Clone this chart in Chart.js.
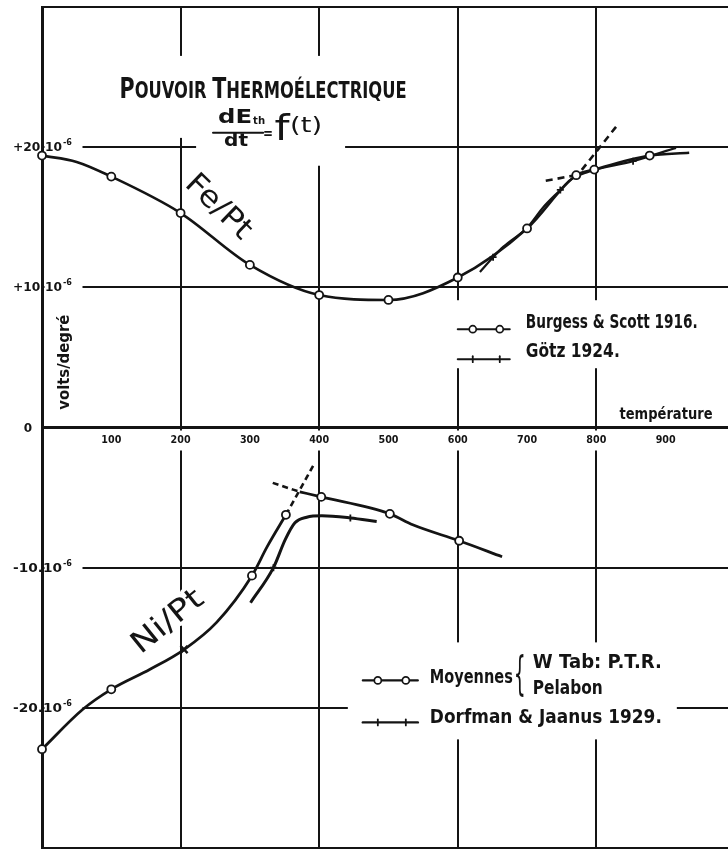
<!DOCTYPE html>
<html><head><meta charset="utf-8">
<script src="https://cdn.jsdelivr.net/npm/chart.js@4.4.1/dist/chart.umd.min.js"></script>
<style>html,body{margin:0;padding:0;background:#fff;}#wrap{width:728px;height:849px;}</style>
</head><body><div id="wrap"><canvas id="c" width="728" height="849"></canvas></div>
<script>
// ---------- data: temperature (°C) vs thermoelectric power (10^-6 V/°C) ----------
const xTickValues = [100, 200, 300, 400, 500, 600, 700, 800, 900];
const xGridValues = [200, 400, 600, 800];
const yTickValues = [20, 10, 0, -10, -20];
const yTickLabels = ['+20.10', '+10.10', '0', '-10.10', '-20.10'];
const yTickExponent = '-6';

// Fe/Pt — Burgess & Scott 1916 (measured circles + extra trace points of the drawn curve)
const feBurgessT = [0, 100, 200, 300, 400, 500, 600, 700, 771, 797, 877];
const feBurgessV = [19.4, 17.9, 15.3, 11.6, 9.45, 9.1, 10.7, 14.2, 18.0, 18.4, 19.4];
const feBurgessTraceT = [50, 934];
const feBurgessTraceV = [18.95, 19.6];
// Fe/Pt — Götz 1924
const feGotzT = [632, 651, 666, 700, 724, 748, 762, 786, 853, 915];
const feGotzV = [11.1, 12.15, 12.9, 14.25, 15.75, 16.95, 17.65, 18.2, 19.0, 19.95];
const feGotzMarkT = [651, 748, 853];
const feGotzMarkV = [12.15, 16.95, 19.0];
// Fe/Pt — dashed tangents
const feTangentFlatT = [727, 767];
const feTangentFlatV = [17.6, 17.97];
const feTangentSteepT = [779, 830];
const feTangentSteepV = [18.38, 21.55];

// Ni/Pt — Moyennes (W Tab: P.T.R., Pelabon)
const niMoyLowT = [0, 59, 100, 156, 205, 252, 303, 325, 352];
const niMoyLowV = [-22.95, -20.1, -18.68, -17.25, -15.84, -13.9, -10.57, -8.5, -6.23];
const niMoyHighT = [372, 403, 502, 535, 602, 664];
const niMoyHighV = [-4.59, -4.95, -6.16, -6.94, -8.08, -9.22];
const niMoyPointT = [0, 100, 303, 352, 403, 502, 602];
const niMoyPointV = [-22.95, -18.68, -10.57, -6.23, -4.95, -6.16, -8.08];
const niCrossT = [205];
const niCrossV = [-15.84];
const niTangentSteepT = [352, 392];
const niTangentSteepV = [-6.23, -2.67];
const niTangentFlatT = [333, 372];
const niTangentFlatV = [-3.95, -4.59];
// Ni/Pt — Dorfman & Jaanus 1929
const niDorfT = [301, 334, 351, 365, 382, 404, 445, 483];
const niDorfV = [-12.5, -10.0, -8.0, -6.8, -6.4, -6.3, -6.45, -6.7];
const niDorfMarkT = [334, 445];
const niDorfMarkV = [-10.0, -6.45];

// ---------- helpers ----------
const INK = '#141414';
const FONT = '"DejaVu Sans", sans-serif';
const pts = (T, V) => T.map((t, i) => ({x: t, y: V[i]}));
const merged = (T1, V1, T2, V2) => pts(T1, V1).concat(pts(T2, V2)).sort((a, b) => a.x - b.x);

function curve(data, w, dash) {
  return {data, showLine: true, borderColor: INK, borderWidth: w || 2.6, borderDash: dash || [],
    pointRadius: 0, pointHoverRadius: 0, cubicInterpolationMode: 'monotone', order: 2, fill: false};
}
function marks(data, style, r, bw, bg) {
  return {data, showLine: false, pointStyle: style, pointRadius: r, pointHoverRadius: r,
    pointBackgroundColor: bg || '#fff', pointBorderColor: INK, pointBorderWidth: bw, order: 0, clip: false};
}

function txt(ctx, s, x, y, o) {
  ctx.save();
  ctx.font = `${o.style || 'normal'} ${o.weight || 'bold'} ${o.size}px ${FONT}`;
  const m = ctx.measureText(s).width;
  ctx.translate(x, y);
  if (o.rot) ctx.rotate(o.rot);
  ctx.scale(o.w ? o.w / m : 1, 1);
  ctx.textAlign = o.align || 'center';
  ctx.textBaseline = o.baseline || 'middle';
  if (o.knock) { ctx.lineJoin = 'round'; ctx.strokeStyle = '#fff'; ctx.lineWidth = o.knock; ctx.strokeText(s, 0, 0); }
  ctx.fillStyle = INK; ctx.fillText(s, 0, 0);
  ctx.restore();
}
function smallCaps(ctx, s, cx, base, w, big, small) {
  const parts = [];
  s.split(' ').forEach((wd, i, arr) => {
    parts.push([wd[0], big]);
    parts.push([wd.slice(1) + (i < arr.length - 1 ? ' ' : ''), small]);
  });
  ctx.save();
  let total = 0;
  parts.forEach(p => { ctx.font = `bold ${p[1]}px ${FONT}`; p.push(ctx.measureText(p[0]).width); total += p[2]; });
  ctx.translate(cx - w / 2, base); ctx.scale(w / total, 1);
  ctx.textAlign = 'left'; ctx.textBaseline = 'alphabetic'; ctx.fillStyle = INK;
  let xx = 0;
  parts.forEach(p => { ctx.font = `bold ${p[1]}px ${FONT}`; ctx.fillText(p[0], xx, 0); xx += p[2]; });
  ctx.restore();
}
function seg(ctx, x1, y1, x2, y2, w) {
  ctx.save(); ctx.strokeStyle = INK; ctx.lineWidth = w || 2.4; ctx.lineCap = 'round';
  ctx.beginPath(); ctx.moveTo(x1, y1); ctx.lineTo(x2, y2); ctx.stroke(); ctx.restore();
}
function ring(ctx, x, y, r) {
  ctx.save(); ctx.fillStyle = '#fff'; ctx.strokeStyle = INK; ctx.lineWidth = 1.7;
  ctx.beginPath(); ctx.arc(x, y, r, 0, Math.PI * 2); ctx.fill(); ctx.stroke(); ctx.restore();
}
function tick(ctx, x, y) { seg(ctx, x, y - 3, x, y + 3, 1.8); }

const annotations = {
  id: 'annotations',
  beforeDatasetsDraw(chart) {
    const {ctx, scales: {x, y}} = chart;
    const P = (t, v) => [x.getPixelForValue(t), y.getPixelForValue(v)];
    ctx.save();

    const [tx, ty] = P(319, 24.3);
    const [fx, fy] = P(283, 21.03);
    const [lx1, ly1] = P(600, 6.94);
    const [lx2, ly2] = P(463, -17.97);
    ctx.fillStyle = '#fff';
    ctx.fillRect(tx - 163, ty - 31, 320, 50);
    ctx.fillRect(tx - 90, ty + 17, 14, 34);
    ctx.fillRect(fx - 42, fy - 30, 149, 63);
    ctx.fillRect(lx1 - 10, ly1 - 30, 257, 68);
    ctx.fillRect(lx2 - 15, ly2 - 37, 329, 97);

    // y tick labels
    yTickValues.forEach((v, i) => {
      const py = y.getPixelForValue(v);
      if (v === 0) { txt(ctx, yTickLabels[i], 28, py + 1, {size: 12}); return; }
      ctx.fillStyle = '#fff'; ctx.fillRect(44.5, py - 7, 38, 14);
      txt(ctx, yTickLabels[i], 13, py + 1, {size: 11.5, w: 49, align: 'left'});
      txt(ctx, yTickExponent, 63, py - 4, {size: 8, w: 9, align: 'left'});
    });

    // x tick labels, just under the zero line
    const y0 = y.getPixelForValue(0);
    xTickValues.forEach(v => {
      const px = x.getPixelForValue(v);
      ctx.fillStyle = '#fff'; ctx.fillRect(px - 12, y0 + 3, 24, 20);
      txt(ctx, String(v), px, y0 + 13, {size: 11, w: 20});
    });

    smallCaps(ctx, 'POUVOIR THERMOÉLECTRIQUE', tx, ty + 11, 287, 29, 23);

    // formula dE_th/dt = f(t)
    txt(ctx, 'dE', fx - 3, fy - 15, {size: 19, w: 34});
    txt(ctx, 'th', fx + 21, fy - 11, {size: 10, w: 12});
    seg(ctx, fx - 25, fy, fx + 25, fy, 2.2);
    txt(ctx, 'dt', fx - 2, fy + 9, {size: 18, w: 24});
    txt(ctx, '=', fx + 30, fy + 1, {size: 16, w: 10});
    txt(ctx, 'f', fx + 44, fy - 2, {size: 36, weight: 'normal', w: 15});
    txt(ctx, '(t)', fx + 68, fy - 6, {size: 21, weight: 'normal', w: 32});

    // curve names
    const [fex, fey] = P(254, 15.7);
    txt(ctx, 'Fe/Pt', fex, fey, {size: 30, weight: 'normal', w: 80, rot: 44 * Math.PI / 180, knock: 7});
    const [nix, niy] = P(182, -13.9);
    txt(ctx, 'Ni/Pt', nix, niy, {size: 30, weight: 'normal', w: 84, rot: -39 * Math.PI / 180, knock: 7});

    // axis titles
    const [vx, vy] = P(33, 4.66);
    txt(ctx, 'volts/degré', vx, vy, {size: 16, w: 95, rot: -Math.PI / 2});
    const [tpx, tpy] = P(900.5, 0.89);
    txt(ctx, 'température', tpx, tpy, {size: 15, w: 93});

    // legend Fe/Pt
    seg(ctx, lx1, ly1 - 1, lx1 + 52, ly1 - 1, 2);
    ring(ctx, lx1 + 15, ly1 - 1, 3.5); ring(ctx, lx1 + 42, ly1 - 1, 3.5);
    txt(ctx, 'Burgess & Scott 1916.', lx1 + 68, ly1 - 7, {size: 20, w: 172, align: 'left'});
    seg(ctx, lx1, ly1 + 29, lx1 + 52, ly1 + 29, 2);
    tick(ctx, lx1 + 15, ly1 + 29); tick(ctx, lx1 + 42, ly1 + 29);
    txt(ctx, 'Götz 1924.', lx1 + 68, ly1 + 22, {size: 20, w: 94, align: 'left'});

    // legend Ni/Pt
    seg(ctx, lx2, ly2 + 1, lx2 + 55, ly2 + 1, 2.2);
    ring(ctx, lx2 + 15, ly2 + 1, 3.5); ring(ctx, lx2 + 43, ly2 + 1, 3.5);
    txt(ctx, 'Moyennes', lx2 + 67, ly2 - 2, {size: 20, w: 83, align: 'left'});
    txt(ctx, '{', lx2 + 157, ly2 - 2, {size: 46, weight: 'normal', w: 12});
    txt(ctx, 'W Tab: P.T.R.', lx2 + 170, ly2 - 17, {size: 20, w: 129, align: 'left'});
    txt(ctx, 'Pelabon', lx2 + 170, ly2 + 9, {size: 20, w: 70, align: 'left'});
    seg(ctx, lx2, ly2 + 43, lx2 + 55, ly2 + 43, 2.4);
    tick(ctx, lx2 + 15, ly2 + 43); tick(ctx, lx2 + 43, ly2 + 43);
    txt(ctx, 'Dorfman & Jaanus 1929.', lx2 + 67, ly2 + 38, {size: 20, w: 232, align: 'left'});

    ctx.restore();
  }
};

new Chart(document.getElementById('c'), {
  type: 'scatter',
  data: {
    datasets: [
      marks(pts(feBurgessT, feBurgessV), 'circle', 4, 1.8),
      marks(pts(feGotzMarkT, feGotzMarkV), 'cross', 3.5, 1.8),
      marks(pts(niMoyPointT, niMoyPointV), 'circle', 4, 1.8),
      marks(pts(niCrossT, niCrossV), 'crossRot', 5, 2.5),
      marks(pts(niDorfMarkT, niDorfMarkV), 'cross', 3.5, 1.8),
      curve(merged(feBurgessT, feBurgessV, feBurgessTraceT, feBurgessTraceV), 2.6),
      curve(pts(feGotzT, feGotzV), 2.2),
      curve(pts(feTangentFlatT, feTangentFlatV), 2.6, [7, 5]),
      curve(pts(feTangentSteepT, feTangentSteepV), 2.6, [7, 5]),
      curve(pts(niMoyLowT, niMoyLowV), 2.8),
      curve(pts(niMoyHighT, niMoyHighV), 2.8),
      curve(pts(niTangentSteepT, niTangentSteepV), 2.6, [6, 4]),
      curve(pts(niTangentFlatT, niTangentFlatV), 2.6, [6, 4]),
      curve(pts(niDorfT, niDorfV), 3)
    ]
  },
  options: {
    responsive: false, animation: false, devicePixelRatio: 1,
    layout: {autoPadding: false, padding: {top: 7, bottom: 1, left: 0, right: 0}},
    plugins: {legend: {display: false}, tooltip: {enabled: false}},
    events: [],
    scales: {
      x: {
        type: 'linear', position: 'bottom', min: 0, max: 990,
        afterBuildTicks: s => { s.ticks = xGridValues.map(v => ({value: v})); },
        ticks: {display: false},
        grid: {drawTicks: false, lineWidth: 2, color: INK},
        border: {display: false},
        afterFit: s => { s.height = 0; }
      },
      y: {
        type: 'linear', position: 'left', min: -30, max: 30,
        ticks: {display: false, stepSize: 10},
        grid: {drawTicks: false, color: INK, lineWidth: c => (c.tick && c.tick.value === 0) ? 3 : 2},
        border: {display: true, color: INK, width: 3},
        afterFit: s => { s.width = 42; }
      }
    }
  },
  plugins: [annotations]
});
</script>
</body></html>
